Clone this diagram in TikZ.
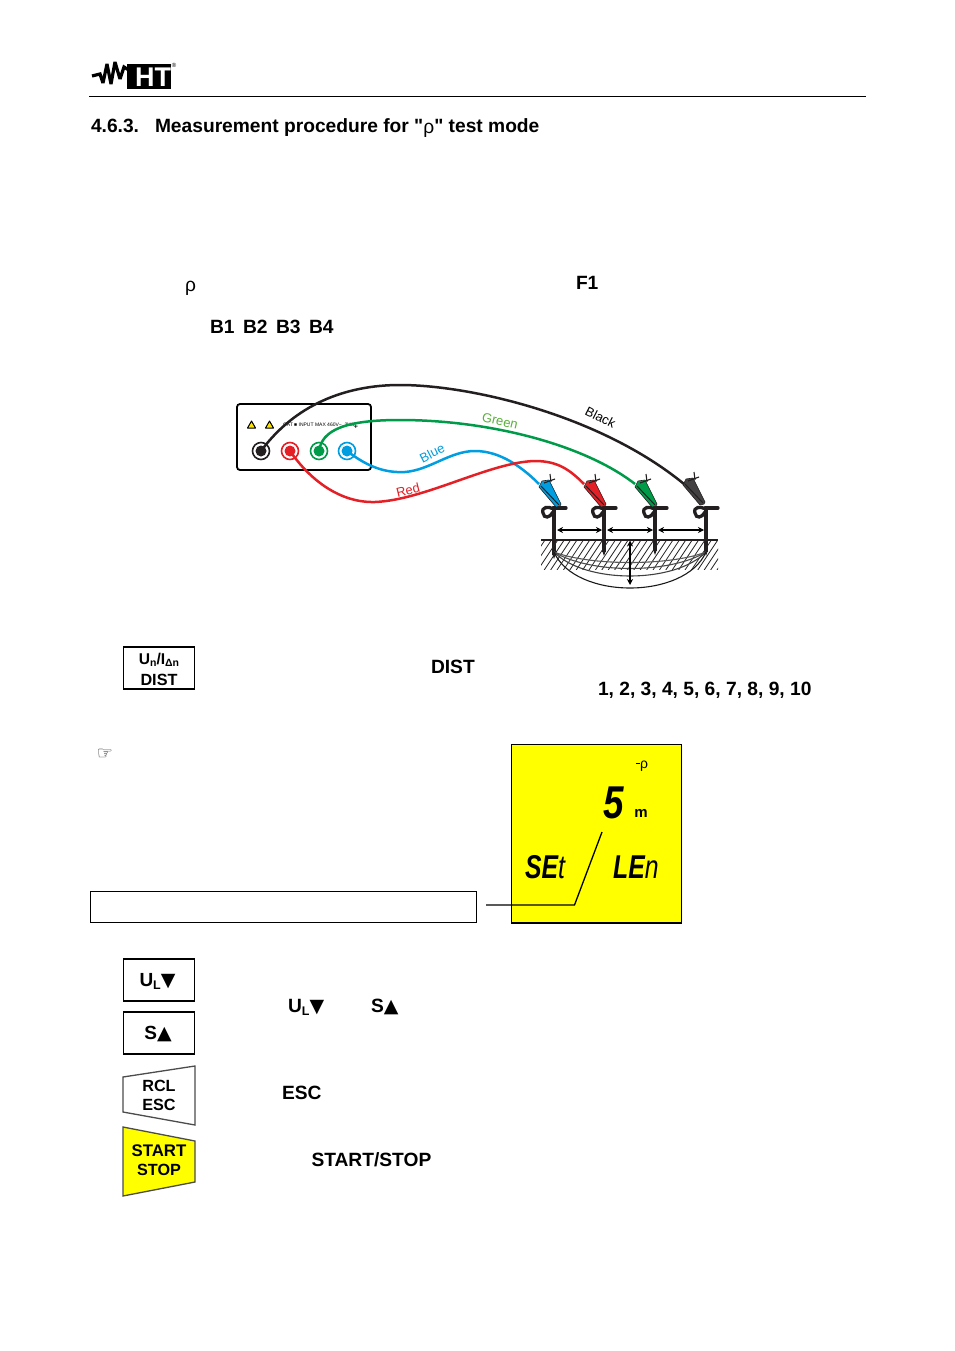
\documentclass[tikz,border=0pt]{standalone}
\usepackage{fontspec}
\setmainfont{Liberation Sans}[Ligatures=TeXOff]
\newfontfamily\symfont{DejaVu Sans}
\usetikzlibrary{arrows.meta}
\definecolor{cblack}{RGB}{35,31,32}
\definecolor{cred}{RGB}{228,32,38}
\definecolor{cgreen}{RGB}{0,155,72}
\definecolor{cblue}{RGB}{0,158,224}
\definecolor{lblgreen}{RGB}{90,175,60}
\definecolor{lcdyellow}{RGB}{255,255,0}
\tikzset{
 bold/.style={font=\fontsize{19.2}{23}\selectfont\bfseries,anchor=base west,inner sep=0,outer sep=0},
 keylabel/.style={font=\fontsize{16.2}{20}\selectfont\bfseries,inner sep=0,outer sep=0},
 keybox/.style={draw=black,line width=1.3pt,fill=white},
 cable/.style={line width=2.5pt},
 wire/.style={font=\fontsize{13}{15}\selectfont,inner sep=0},
 rod/.style={line width=3.3pt,draw=cblack},
 dim/.style={line width=1.1pt,{Stealth[length=6pt,width=6pt]}-{Stealth[length=6pt,width=6pt]}},
 warn/.style={fill=yellow!85!orange,draw=black,line width=1pt,line join=round},
}
\newcommand{\clipshape}[3]{% tip x, tip y, colour
 \begin{scope}[shift={(#1,#2)}]
  \fill[#3,draw=cblack,line width=.6pt] (0,0) -- (-4,1) -- (-21,-19) -- (-18,-25) -- (-11,-26) -- (-8,-20) -- (1,-2) -- cycle;
  \draw[cblack,line width=1.1pt] (-10,-32) -- (-9,-24);
  \draw[cblack,line width=1.1pt] (-16,-23) -- (-5,-27);
  \draw[cblack,line width=1pt] (-19,-20) -- (-1,-1);
 \end{scope}}
\newcommand{\rodshape}[2]{% x, bottom y
 \draw[rod,line cap=round] (#1-1,508) -- (#1+12,508);
 \draw[rod] (#1,508) -- (#1,#2-4);
 \fill[cblack] (#1-1.7,#2-5) -- (#1+1.7,#2-5) -- (#1,#2) -- cycle;
 \draw[rod] (#1,509) .. controls (#1-6,506) and (#1-13,507) .. (#1-11,513) .. controls (#1-10,519) and (#1-4,518) .. (#1-1,512);
}
\begin{document}
\begin{tikzpicture}[x=1pt,y=-1pt]
\useasboundingbox (0,0) rectangle (954,1351);
\fill[white] (0,0) rectangle (954,1351);
% logo
\fill[black] (127,64) rectangle (171,89);
\draw[black,line width=3.2pt,line join=miter,miter limit=3] (92,76) -- (100,74) -- (103,83) -- (107,64) -- (111,84) -- (115,62) -- (120,79) -- (124,67) -- (135,74);
\node[inner sep=0,text=white,font=\fontsize{27}{27}\selectfont\bfseries] (logoht) at (153,77) {HT};
\node[inner sep=0,font=\fontsize{6}{6}\selectfont] (logor) at (174,65.5) {®};
\coordinate (headL) at (89,96.5);
\coordinate (headR) at (866,96.5);
\draw[black,line width=1.2pt] (headL) -- (headR);
% heading and body labels
\node[bold] (secnum) at (91,132.5) {4.6.3.};
\node[bold] (sectitle) at (155,132.5) {Measurement procedure for "{\mdseries\raisebox{-1.5pt}{ρ}}" test mode};
\node[bold,font=\fontsize{19.2}{23}\selectfont] (rho) at (185,291) {ρ};
\node[bold] (f1) at (576,289) {F1};
\node[bold] (bs) at (210,333) {B1\hspace{8.5pt}B2\hspace{8.5pt}B3\hspace{8.5pt}B4};
\node[bold] (dist) at (431,673) {DIST};
\node[bold] (nums) at (598,695) {1, 2, 3, 4, 5, 6, 7, 8, 9, 10};
\node[bold] (ul) at (288,1012) {U\raisebox{-3pt}{\fontsize{12.5}{12.5}\selectfont L}{\symfont\fontsize{19}{19}\selectfont ▼}};
\node[bold] (sup) at (371,1012) {S{\symfont\fontsize{19}{19}\selectfont ▲}};
\node[bold] (esc) at (282,1099) {ESC};
\node[bold] (ss) at (311.5,1166) {START/STOP};
\node[inner sep=0,font=\symfont\fontsize{18}{18}\selectfont,text=black!85] (hand) at (105,754) {☞};
% instrument
\draw[black,line width=1.8pt,rounded corners=3pt] (237,404) rectangle (371,470);
\draw[warn] (247.5,428) -- (251.5,421) -- (255.5,428) -- cycle;
\draw[warn] (265.5,428) -- (269.5,421) -- (273.5,428) -- cycle;
\node[inner sep=0,anchor=west,font=\fontsize{5}{6}\selectfont] (cat) at (283,425) {CAT ■ INPUT MAX 460V\textasciitilde,\ 2kW};
\node[inner sep=0,font=\symfont\fontsize{6}{6}\selectfont\bfseries] (bolt) at (356,427) {+};
% terminals
\foreach \n/\x/\c in {tblack/261/cblack,tred/290/cred,tgreen/319/cgreen,tblue/347/cblue}{
 \node[circle,draw=\c,fill=white,line width=1.6pt,minimum size=17pt,inner sep=0] (\n) at (\x,451) {};
 \fill[\c] (\x,451) circle (5.5pt);
}
% stakes
\rodshape{554}{559}
\rodshape{604}{556}
\rodshape{655}{555}
\rodshape{706}{556}
% clips
\clipshape{560}{506}{cblue}
\clipshape{605}{506}{cred}
\clipshape{656}{506}{cgreen}
\clipshape{704}{504}{cblack!85}
% anchor points
\coordinate (cb) at (539,484);
\coordinate (cr) at (584,484);
\coordinate (cg) at (635,484);
\coordinate (ck) at (684,484);
% cables
\draw[cable,cblack] (tblack.center) .. controls (295,405) and (345,385) .. (400,385) .. controls (470,385) and (600,415) .. (ck);
\draw[cable,cgreen] (tgreen.center) .. controls (322,430) and (345,420) .. (400,420) .. controls (490,420) and (585,445) .. (cg);
\draw[cable,cblue] (tblue.center) .. controls (368,467) and (385,473) .. (405,472) .. controls (430,470) and (450,451) .. (475,451) .. controls (500,451) and (522,467) .. (cb);
\draw[cable,cred] (tred.center) .. controls (310,480) and (340,503) .. (375,502) .. controls (425,500) and (490,462) .. (535,461) .. controls (558,461) and (570,470) .. (cr);
% cable labels
\node[wire,rotate=-27] (lk) at (600.5,417.5) {Black};
\node[wire,rotate=-13,text=lblgreen] (lg) at (500,421) {Green};
\node[wire,rotate=27,text=cblue] (lb) at (432,453) {Blue};
\node[wire,rotate=14,text=cred] (lr) at (408,490) {Red};
% ground
\begin{scope}
 \clip (541,541) rectangle (718,569);
 \foreach \i in {0,...,34}{
  \draw[black!85,line width=.8pt] (525+\i*6.4,570) -- (525+\i*6.4+20,540);
 }
\end{scope}
\coordinate (gl) at (541,540);
\coordinate (gr) at (718,540);
\draw[cblack,line width=2pt] (gl) -- (gr);
\coordinate (s1) at (554,552);
\coordinate (s4) at (706,552);
\draw[black!65,line width=1.1pt] (s1) .. controls (590,566) and (670,566) .. (s4);
\draw[black!70,line width=1.1pt] (s1) .. controls (590,574) and (670,574) .. (s4);
\draw[black!75,line width=1.1pt] (s1) .. controls (585,584) and (675,584) .. (s4);
\draw[black!90,line width=1.1pt] (s1) .. controls (575,600) and (685,600) .. (s4);
\coordinate (a1) at (557,530);
\coordinate (a2) at (602,530);
\coordinate (a3) at (607,530);
\coordinate (a4) at (653,530);
\coordinate (a5) at (658,530);
\coordinate (a6) at (704,530);
\draw[dim] (a1) -- (a2);
\draw[dim] (a3) -- (a4);
\draw[dim] (a5) -- (a6);
\coordinate (v1) at (630,540.5);
\coordinate (v2) at (630,585);
\draw[dim] (v1) -- (v2);
% DIST key
\draw[keybox] (123.5,647) rectangle (194.5,689);
\node[keylabel,font=\fontsize{15.6}{20}\selectfont\bfseries] (k1) at (159,660) {U\raisebox{-2.5pt}{\fontsize{10.5}{11}\selectfont n}/I\raisebox{-2.5pt}{\fontsize{10.5}{11}\selectfont Δn}};
\node[keylabel] (k2) at (159,679.5) {DIST};
% LCD
\draw[black,line width=1.3pt,fill=lcdyellow] (511.5,744.5) rectangle (681.5,923);
\node[inner sep=0,font=\fontsize{14}{14}\selectfont] (lcdrho) at (642,766) {\raisebox{4pt}{\rule{4pt}{1.2pt}}ρ};
\node[inner sep=0,font=\fontsize{46}{46}\selectfont\bfseries\itshape,xscale=.8] (lcd5) at (614,803) {5};
\node[inner sep=0,font=\fontsize{15}{15}\selectfont\bfseries] (lcdm) at (641,813) {m};
\node[inner sep=0,font=\fontsize{33}{33}\selectfont\itshape,xscale=.75,anchor=west] (lcdset) at (525,867) {\textbf{SE}t};
\node[inner sep=0,font=\fontsize{33}{33}\selectfont\itshape,xscale=.75,anchor=west] (lcdlen) at (613,867) {\textbf{LE}n};
% call-out
\node[draw=black,line width=1.1pt,fill=white,minimum width=386pt,minimum height=31pt,inner sep=0,anchor=north west] (msgbox) at (90,891) {};
\coordinate (cstart) at (486,905);
\coordinate (cend) at (602,832);
\draw[black,line width=1.3pt] (cstart) -- (574.5,905) -- (cend);
% keys
\draw[keybox] (123.5,959) rectangle (194.5,1001);
\node[keylabel,font=\fontsize{19}{20}\selectfont\bfseries] (k3) at (157.5,981) {U\raisebox{-3pt}{\fontsize{12.5}{12.5}\selectfont L}{\symfont\fontsize{19}{19}\selectfont ▼}};
\draw[keybox] (123.5,1012) rectangle (194.5,1054);
\node[keylabel,font=\fontsize{19}{20}\selectfont\bfseries] (k4) at (158,1034) {S{\symfont\fontsize{19}{19}\selectfont ▲}};
\draw[black!70,line width=1.3pt,line join=miter,fill=white] (123,1077) -- (195,1066) -- (195,1125) -- (123,1112) -- cycle;
\node[keylabel] (k5) at (159,1086) {RCL};
\node[keylabel] (k6) at (159,1105) {ESC};
\draw[black!70,line width=1.3pt,fill=lcdyellow] (123,1127) -- (195,1141) -- (195,1182) -- (123,1196) -- cycle;
\node[keylabel,font=\fontsize{16.8}{20}\selectfont\bfseries] (k7) at (159,1151) {START};
\node[keylabel] (k8) at (159,1170) {STOP};
\end{tikzpicture}
\end{document}
